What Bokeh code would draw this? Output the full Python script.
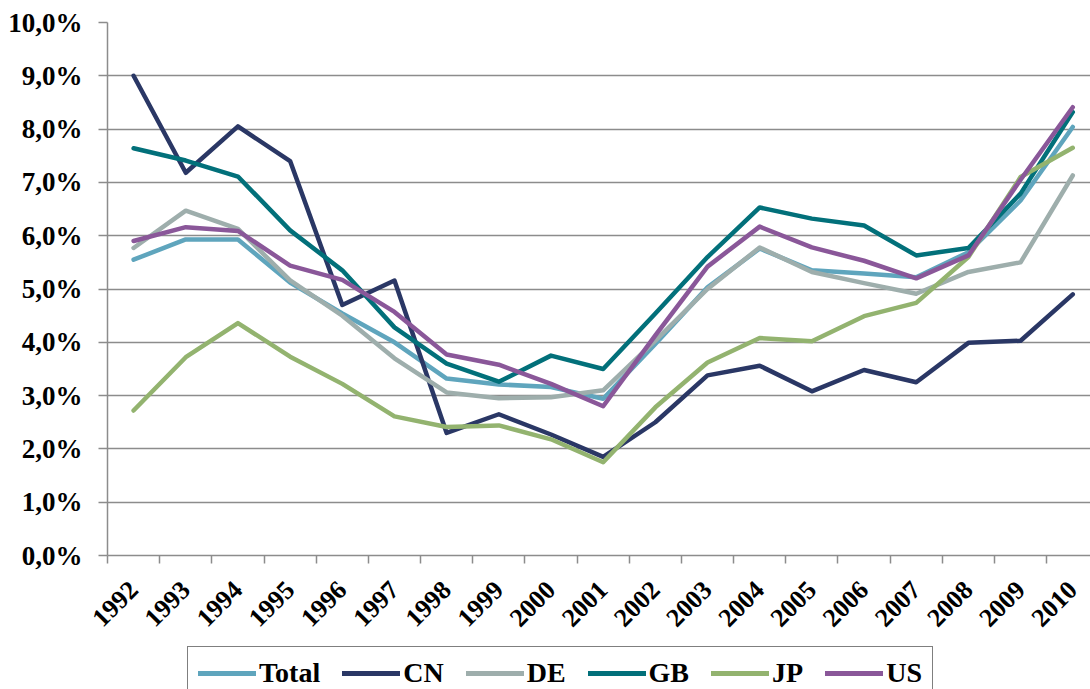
from bokeh.models import FixedTicker, Range1d, Legend
from bokeh.plotting import figure
from bokeh.layouts import column
from bokeh.embed import file_html
from bokeh.resources import INLINE

years = [str(y) for y in range(1992, 2011)]

total = [5.55, 5.93, 5.93, 5.12, 4.54, 4.00, 3.32, 3.21, 3.16, 2.94, 3.97, 5.03, 5.76, 5.35, 5.29, 5.22, 5.69, 6.66, 8.04]
cn = [9.00, 7.18, 8.05, 7.40, 4.70, 5.16, 2.30, 2.65, 2.27, 1.85, 2.50, 3.38, 3.56, 3.08, 3.48, 3.25, 3.99, 4.03, 4.90]
de = [5.77, 6.47, 6.13, 5.16, 4.50, 3.70, 3.06, 2.95, 2.97, 3.10, 4.03, 5.00, 5.78, 5.32, 5.11, 4.91, 5.32, 5.50, 7.13]
gb = [7.64, 7.41, 7.11, 6.10, 5.35, 4.28, 3.60, 3.26, 3.75, 3.50, 4.54, 5.60, 6.53, 6.32, 6.19, 5.63, 5.77, 6.79, 8.32]
jp = [2.72, 3.72, 4.36, 3.73, 3.22, 2.61, 2.41, 2.44, 2.18, 1.75, 2.78, 3.62, 4.08, 4.02, 4.49, 4.74, 5.60, 7.10, 7.65]
us = [5.90, 6.16, 6.09, 5.44, 5.17, 4.57, 3.77, 3.58, 3.22, 2.80, 4.13, 5.42, 6.17, 5.78, 5.53, 5.20, 5.63, 7.05, 8.41]

series = [
    ("Total", total, "#5fa5bd"),
    ("CN", cn, "#2a3765"),
    ("DE", de, "#9eaeac"),
    ("GB", gb, "#02707a"),
    ("JP", jp, "#93b36f"),
    ("US", us, "#8a5799"),
]

xs = list(range(len(years)))

p = figure(width=1090, height=640, output_backend="svg", toolbar_location=None,
           x_range=Range1d(-0.5, 18.34), y_range=Range1d(0, 10))
p.min_border_left = 107
p.min_border_top = 22
p.min_border_right = 0
p.min_border_bottom = 85
p.outline_line_color = None
p.background_fill_color = "white"
p.border_fill_color = "white"

# y axis: percent labels with comma decimal
p.yaxis.ticker = FixedTicker(ticks=list(range(0, 11)))
p.yaxis.major_label_overrides = {i: "%d,0%%" % i for i in range(0, 11)}
p.ygrid.ticker = FixedTicker(ticks=list(range(0, 11)))
p.ygrid.grid_line_color = "#8c8c8c"
p.ygrid.grid_line_width = 1.5
p.xgrid.grid_line_color = None

# x axis: years at centers, tick marks between categories
p.xaxis.ticker = FixedTicker(ticks=xs, minor_ticks=[i - 0.5 for i in xs])
p.xaxis.major_label_overrides = {i: y for i, y in zip(xs, years)}
p.xaxis.major_label_orientation = 0.785398
p.xaxis.major_tick_out = 0
p.xaxis.major_tick_in = 0
p.xaxis.minor_tick_out = 8
p.xaxis.minor_tick_in = 0
p.xaxis.minor_tick_line_color = "#8c8c8c"
p.xaxis.minor_tick_line_width = 1.5
p.xaxis.major_label_standoff = 22

p.yaxis.major_tick_out = 9
p.yaxis.major_tick_in = 0
p.yaxis.minor_tick_line_color = None
p.yaxis.major_label_standoff = 16

for ax in (p.xaxis, p.yaxis):
    ax.axis_line_color = "#8c8c8c"
    ax.axis_line_width = 1.5
    ax.major_tick_line_color = "#8c8c8c"
    ax.major_tick_line_width = 1.5
    ax.major_label_text_font = "Liberation Serif"
    ax.major_label_text_font_style = "bold"
    ax.major_label_text_color = "black"
p.yaxis.major_label_text_font_size = "27px"
p.xaxis.major_label_text_font_size = "26px"

for name, vals, color in series:
    p.line(xs, vals, line_color=color, line_width=4.5, line_cap="round", line_join="round")

# legend strip below the chart
p2 = figure(width=1090, height=49, output_backend="svg", toolbar_location=None,
            x_range=Range1d(0, 1), y_range=Range1d(0, 1))
p2.min_border_left = 0
p2.min_border_right = 0
p2.min_border_top = 0
p2.min_border_bottom = 0
p2.axis.visible = False
p2.grid.visible = False
p2.outline_line_color = None

items = []
for name, vals, color in series:
    r = p2.line([0], [0], line_color=color, line_width=5, line_cap="round")
    items.append((name, [r]))

legend = Legend(items=items, orientation="horizontal", location=(80, -11))
legend.label_text_font = "Liberation Serif"
legend.label_text_font_style = "bold"
legend.label_text_font_size = "28px"
legend.label_text_color = "black"
legend.border_line_color = "black"
legend.border_line_width = 1.5
legend.glyph_width = 58
legend.label_standoff = 3
legend.spacing = 22
legend.padding = 10
legend.margin = 0
p2.add_layout(legend, "center")

open("out.html", "w").write(file_html(column(p, p2), INLINE))
